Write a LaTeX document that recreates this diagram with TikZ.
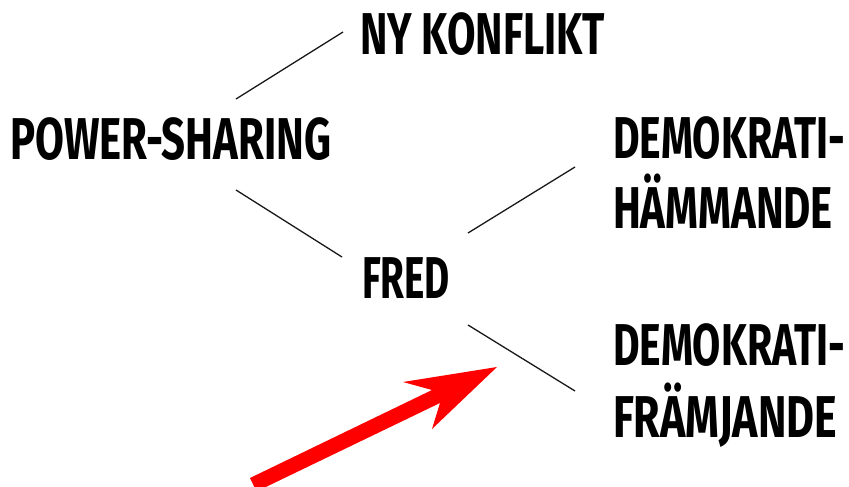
\documentclass[tikz,border=0pt]{standalone}
\usepackage{fontspec}
\usepackage{graphicx}
\newfontfamily\labelfont{Fira Sans}[UprightFont=* Bold]
\newlength\natw
\newcommand\fitto[2]{\settowidth\natw{#2}\pgfmathsetmacro\sx{#1/\the\natw}\scalebox{\sx}[1]{#2}}
\tikzset{
  lbl/.style={anchor=base west, inner sep=0pt, outer sep=0pt, font=\labelfont\fontsize{59}{59}\selectfont},
  conn/.style={line width=1.3pt, black!90},
  bigarrow/.style={fill=red, draw=none}
}
\begin{document}
\begin{tikzpicture}[x=1pt,y=-1pt]
\path[use as bounding box, fill=white] (0,0) rectangle (849,487);
\clip (0,0) rectangle (849,487);
\node[lbl] (ny) at (360,55) {\fitto{245pt}{NY KONFLIKT}};
\node[lbl] (ps) at (10,159) {\fitto{321pt}{POWER-SHARING}};
\node[lbl] (dh1) at (613,158) {\fitto{232pt}{DEMOKRATI-}};
\node[lbl] (dh2) at (613,228) {\fitto{220pt}{HÄMMANDE}};
\node[lbl] (fred) at (362,298) {\fitto{88pt}{FRED}};
\node[lbl] (df1) at (613,365) {\fitto{232pt}{DEMOKRATI-}};
\node[lbl] (df2) at (613,437) {\fitto{224pt}{FRÄMJANDE}};
\coordinate (a1) at (236,99); \coordinate (a2) at (343,32);
\coordinate (b1) at (236,190); \coordinate (b2) at (342,257);
\coordinate (c1) at (468,233); \coordinate (c2) at (575,167);
\coordinate (d1) at (468,325); \coordinate (d2) at (575,391);
\draw[conn] (a1) -- (a2);
\draw[conn] (b1) -- (b2);
\draw[conn] (c1) -- (c2);
\draw[conn] (d1) -- (d2);
\fill[bigarrow] (250,478) -- (432,390) -- (403,382) -- (497,367) -- (432,429) -- (440,403) -- (256.5,491.5) -- cycle;
\end{tikzpicture}
\end{document}
